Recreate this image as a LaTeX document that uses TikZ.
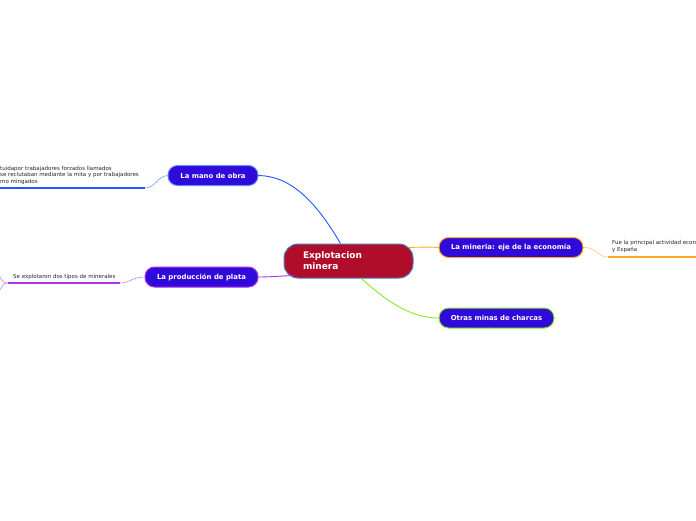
\documentclass[tikz,border=0pt]{standalone}
\usepackage{fontspec}
\setmainfont{DejaVu Sans}

\definecolor{rootfill}{HTML}{B00D2B}
\definecolor{rootline}{HTML}{4A7FC0}
\definecolor{topicfill}{HTML}{300ADB}
\definecolor{cblue}{HTML}{2255FF}
\definecolor{cpurple}{HTML}{AA33EE}
\definecolor{corange}{HTML}{FFAA22}
\definecolor{cgreen}{HTML}{88EE22}

\begin{document}
\begin{tikzpicture}[x=1pt, y=-1pt,
  root/.style={draw=rootline, fill=rootfill, line width=1pt, rounded corners=14pt,
    minimum width=129pt, minimum height=34pt, text width=91pt, inner xsep=19pt,
    align=left, text=white, font=\fontsize{9}{10.8}\selectfont\bfseries},
  topic/.style={fill=topicfill, line width=1pt, rounded corners=9.5pt,
    minimum height=20pt, text=white, font=\fontsize{6.9}{7.5}\selectfont\bfseries},
  note/.style={inner sep=0pt, anchor=north west, align=left,
    font=\fontsize{5.5}{6.4}\selectfont, text=black!85},
  link/.style={line width=0.9pt},
  bar/.style={line width=1.4pt}]
\useasboundingbox (0,0) rectangle (696,520);
\fill[white] (0,0) rectangle (696,520);

\node[root] (root) at (348.5,261) {Explotacion\\minera};

\node[topic, draw=cblue!70, minimum width=90pt] (mano) at (213,175.5) {La mano de obra};
\node[topic, draw=cpurple, minimum width=113pt] (plata) at (201.5,277) {La producción de plata};
\node[topic, draw=corange, minimum width=144pt] (mineria) at (511,247.5) {La mineria: eje de la economía};
\node[topic, draw=cgreen, minimum width=115pt] (otras) at (496.5,318) {Otras minas de charcas};

% ramas principales
\draw[link, cblue] (root.north) ++(-8,0) coordinate (r1)
  (r1) .. controls (315,200) and (290,176) .. (mano.east);
\draw[link, cpurple] (root.south west) ++(10,-3) coordinate (r2)
  (r2) .. controls (280,276) and (270,277) .. (plata.east);
\draw[link, corange] (root.north east) ++(-5,4) coordinate (r3)
  (r3) .. controls (420,247) and (430,247) .. (mineria.west);
\draw[link, cgreen] (root.south) ++(13,0) coordinate (r4)
  (r4) .. controls (385,300) and (410,318) .. (otras.west);

% notas
\coordinate (m1) at (145,188);
\coordinate (m2) at (0,188);
\draw[cblue!60, line width=0.6pt] (mano.west) .. controls (158,176) and (155,188) .. (m1);
\draw[bar, cblue] (m1) -- (m2);
\node[note] (manotxt) at (0,166) {tuidapor trabajadores forzados llamados\\se reclutaban mediante la mita y por trabajadores\\mo mingados};

\coordinate (p1) at (120,283);
\coordinate (p2) at (8,283);
\draw[cpurple!60, line width=0.6pt] (plata.west) .. controls (132,277) and (130,283) .. (p1);
\draw[bar, cpurple] (p1) -- (p2);
\node[note, anchor=south west] (platatxt) at (13,280) {Se explotaron dos tipos de minerales};
\coordinate (p3) at (0,277);
\coordinate (p4) at (0,290);
\draw[cpurple!60, line width=0.6pt] (p2) .. controls (4,283) .. (p3);
\draw[cpurple!60, line width=0.6pt] (p2) .. controls (4,283) .. (p4);

\coordinate (e1) at (608,257);
\coordinate (e2) at (696,257);
\draw[corange!60, line width=0.6pt] (mineria.east) .. controls (597,247) and (597,257) .. (e1);
\draw[bar, corange] (e1) -- (e2);
\node[note] (mineriatxt) at (612,240.5) {Fue la principal actividad econ\\y España};
\end{tikzpicture}
\end{document}
